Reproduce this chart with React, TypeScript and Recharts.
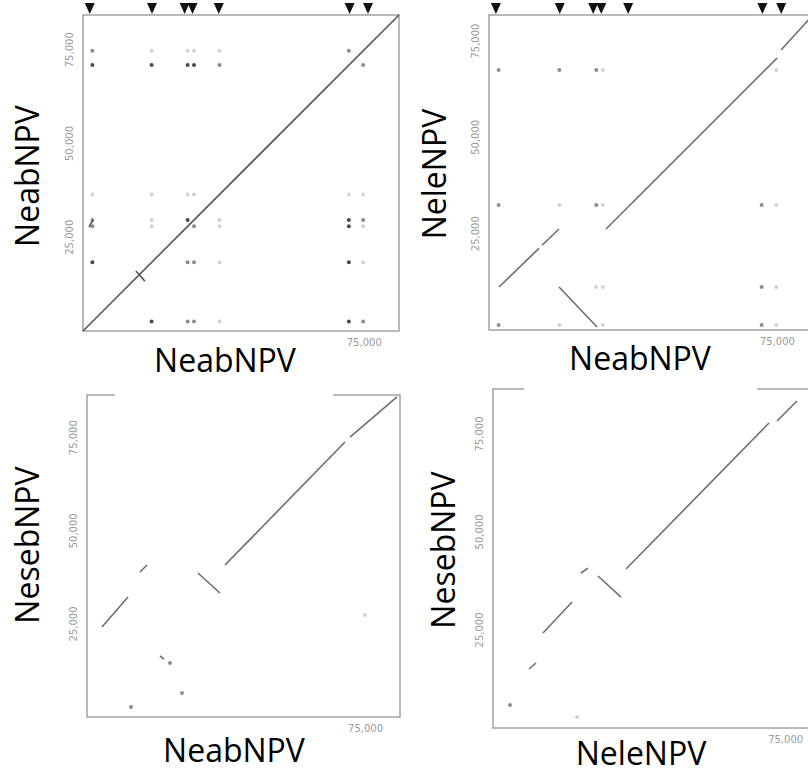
import { ScatterChart, Scatter, XAxis, YAxis, ReferenceArea } from "recharts";

// genome lengths (bp)
const neabLen = 84264;
const neleLen = 81756;
const nesebLen = 86462;

// homologous repeat (hr) positions
const hrNeab = [2500, 18300, 27900, 29600, 36400, 70900, 74700];
const hrNele = [1300, 11160, 32440, 67480];
const hrMarkers = [1800, 18400, 27100, 29200, 36200, 71100, 76000];

// dot strength: rows = y hr, cols = x hr (0 none, 1 faint, 2 medium, 3 dark)
const neabSelfStrength = [
    [0, 3, 2, 2, 1, 3, 2],
    [3, 0, 2, 2, 1, 3, 1],
    [2, 1, 0, 2, 1, 3, 1],
    [2, 1, 3, 0, 1, 3, 2],
    [1, 1, 1, 1, 0, 1, 1],
    [3, 3, 3, 3, 2, 0, 2],
    [2, 1, 1, 1, 1, 2, 0],
];
const neabNeleStrength = [
    [2, 1, 0, 1, 0, 2, 1],
    [0, 0, 1, 1, 0, 2, 1],
    [2, 1, 2, 1, 0, 2, 1],
    [2, 2, 2, 1, 0, 0, 1],
];

// matching segments [x1, y1, x2, y2]
const neabSelfSegs = [
    [0, 0, neabLen, neabLen],
    [14100, 16000, 16500, 13300],
    [1600, 27700, 2700, 29600],
];
const neabNeleSegs = [
    [2600, 11160, 13000, 21200],
    [13800, 22000, 18210, 26210],
    [18210, 11160, 28090, 780],
    [30430, 26210, 74910, 70580],
    [75950, 72660, 84000, 81500],
];
const neabNesebSegs = [
    [4040, 24170, 11040, 32220],
    [14270, 38930, 16150, 40810],
    [29880, 38670, 35800, 33300],
    [37150, 40810, 69460, 73840],
    [70800, 75180, 83460, 85930],
    [19650, 16380, 20730, 15570],
];
const neleNesebSegs = [
    [9230, 15050, 11020, 16580],
    [12810, 24230, 20250, 32130],
    [22550, 39530, 24350, 40800],
    [26910, 38760, 32800, 33400],
    [34090, 40550, 70740, 77780],
    [72790, 78290, 77910, 83390],
];
const neabNesebDots = [[22340, 14500, 2], [25580, 6440, 2], [11850, 2690, 2], [74840, 27390, 1]];
const neleNesebDots = [[4360, 5870, 2], [21530, 2800, 1]];

const dotColors: Record<number, string> = { 1: "#d2d2d2", 2: "#8c8c8c", 3: "#4a4a4a" };

const matrixDots = (xs: number[], ys: number[], m: number[][]) =>
    ys.flatMap((yv, r) => xs.map((xv, c) => ({ x: xv, y: yv, s: m[r][c] }))).filter((d) => d.s > 0);
const listDots = (l: number[][]) => l.map(([x, y, s]) => ({ x, y, s }));

const YTick = ({ x, y, payload }: any) => (
    <text x={x - 10} y={y} transform={`rotate(-90, ${x - 10}, ${y})`} textAnchor="middle"
        fontSize={10} fill="#9a9a9a" fontFamily="DejaVu Sans">
        {payload.value.toLocaleString("en-US")}
    </text>
);
const XTick = ({ x, y, payload }: any) => (
    <text x={x} y={y + 15} textAnchor="middle" fontSize={10} fill="#9a9a9a" fontFamily="DejaVu Sans">
        {payload.value.toLocaleString("en-US")}
    </text>
);
const triangle = (p: any) => (
    <polygon points={`${p.cx - 5},${p.cy - 12} ${p.cx + 5},${p.cy - 12} ${p.cx},${p.cy - 1}`} fill="#111" />
);
const none = () => <g />;

interface PanelProps {
    left: number; top: number; plotW: number; plotH: number;
    xLen: number; yLen: number; segs: number[][];
    dots: { x: number; y: number; s: number }[];
    markers?: boolean; lineColor?: string;
}

function Panel({ left, top, plotW, plotH, xLen, yLen, segs, dots, markers, lineColor = "#6e6e6e" }: PanelProps) {
    return (
        <div style={{ position: "absolute", left: left - 30, top: top - 15 }}>
            <ScatterChart width={30 + plotW + 2} height={15 + plotH + 30}
                margin={{ top: 15, right: 2, bottom: 0, left: 0 }}>
                <XAxis type="number" dataKey="x" domain={[0, xLen]} ticks={[75000]} tick={<XTick />}
                    axisLine={false} tickLine={false} tickSize={0} tickMargin={0} height={30} />
                <YAxis type="number" dataKey="y" domain={[0, yLen]} ticks={[25000, 50000, 75000]} tick={<YTick />}
                    axisLine={false} tickLine={false} tickSize={0} tickMargin={0} width={30} />
                <ReferenceArea x1={0} x2={xLen} y1={0} y2={yLen} fill="none" fillOpacity={0}
                    stroke="#a2a2a2" strokeWidth={1.5} ifOverflow="visible" />
                {[1, 2, 3].map((s) => (
                    <Scatter key={"d" + s} data={dots.filter((d) => d.s === s)} isAnimationActive={false}
                        shape={(p: any) => <circle cx={p.cx} cy={p.cy} r={2} fill={dotColors[s]} />} />
                ))}
                {segs.map((sg, i) => (
                    <Scatter key={"s" + i} data={[{ x: sg[0], y: sg[1] }, { x: sg[2], y: sg[3] }]}
                        line={{ stroke: lineColor, strokeWidth: 1.6 }} shape={none} isAnimationActive={false} />
                ))}
                {markers && (
                    <Scatter data={hrMarkers.map((x) => ({ x, y: yLen }))} shape={triangle} isAnimationActive={false} />
                )}
            </ScatterChart>
        </div>
    );
}

const labelFont = "'Open Sans', 'Noto Sans', sans-serif";

const VLabel = ({ cx, cy, text }: { cx: number; cy: number; text: string }) => (
    <div style={{
        position: "absolute", left: cx, top: cy, transform: "translate(-50%, -50%) rotate(-90deg)",
        whiteSpace: "nowrap", fontSize: 32, lineHeight: 1, fontFamily: labelFont, color: "#000",
    }}>{text}</div>
);

const XLabel = ({ x, y, w, h, cx, cy, text }: any) => (
    <div style={{ position: "absolute", left: x, top: y, width: w, height: h, background: "#fff" }}>
        <div style={{
            position: "absolute", left: cx - x, top: cy - y, transform: "translate(-50%, -50%)",
            whiteSpace: "nowrap", fontSize: 32, lineHeight: 1, fontFamily: labelFont, color: "#000",
        }}>{text}</div>
    </div>
);

export default function App() {
    return (
        <div style={{ position: "absolute", left: 0, top: 0, width: 808, height: 775, overflow: "hidden", background: "#fff" }}>
            <Panel left={83} top={15} plotW={316} plotH={316} xLen={neabLen} yLen={neabLen}
                segs={neabSelfSegs} dots={matrixDots(hrNeab, hrNeab, neabSelfStrength)} markers lineColor="#555" />
            <Panel left={489} top={15} plotW={324} plotH={315} xLen={neabLen} yLen={neleLen}
                segs={neabNeleSegs} dots={matrixDots(hrNeab, hrNele, neabNeleStrength)} markers />
            <Panel left={87} top={395} plotW={313} plotH={322} xLen={neabLen} yLen={nesebLen}
                segs={neabNesebSegs} dots={listDots(neabNesebDots)} />
            <Panel left={493} top={389} plotW={319} plotH={339} xLen={neleLen} yLen={nesebLen}
                segs={neleNesebSegs} dots={listDots(neleNesebDots)} />

            <XLabel x={115} y={333} w={218} h={65} cx={225} cy={360} text="NeabNPV" />
            <XLabel x={524} y={332} w={233} h={62} cx={640} cy={358} text="NeabNPV" />
            <XLabel x={115} y={721} w={218} h={54} cx={234} cy={750} text="NeabNPV" />
            <XLabel x={524} y={730} w={233} h={45} cx={641} cy={753} text="NeleNPV" />

            <VLabel cx={27} cy={176} text="NeabNPV" />
            <VLabel cx={434} cy={174} text="NeleNPV" />
            <VLabel cx={27} cy={545} text="NesebNPV" />
            <VLabel cx={443} cy={550} text="NesebNPV" />
        </div>
    );
}
